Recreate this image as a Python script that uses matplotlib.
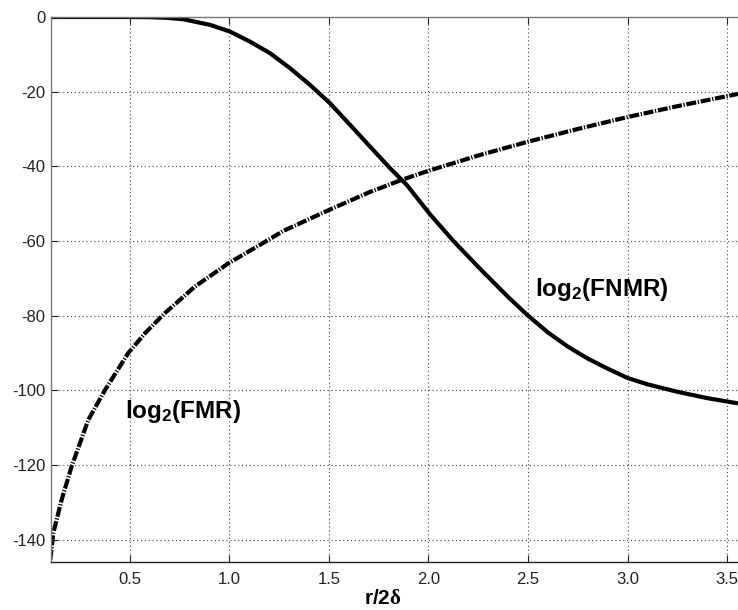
import matplotlib
matplotlib.use("Agg")
import matplotlib.pyplot as plt

plt.rcParams['font.family'] = ['Liberation Sans', 'DejaVu Sans']
plt.rcParams['mathtext.fontset'] = 'custom'
plt.rcParams['mathtext.rm'] = 'Liberation Sans:bold'
plt.rcParams['mathtext.bf'] = 'Liberation Sans:bold'
plt.rcParams['mathtext.it'] = 'Liberation Sans:bold'
plt.rcParams['mathtext.sf'] = 'Liberation Serif:bold'

# FNMR (solid)
fnmr_x = [0.103, 0.3, 0.5, 0.6, 0.68, 0.768, 0.902, 1.003, 1.103, 1.204, 1.304, 1.405,
          1.505, 1.606, 1.706, 1.807, 1.891, 2.01, 2.125, 2.26, 2.4, 2.5, 2.6, 2.7,
          2.8, 2.9, 3.0, 3.1, 3.25, 3.4, 3.555]
fnmr_y = [0.0, 0.0, 0.0, -0.05, -0.2, -0.6, -2.1, -3.9, -6.6, -9.7, -13.7, -18.2,
          -23.1, -28.9, -34.7, -40.5, -45.0, -53.0, -60.0, -67.5, -75.0, -80.0, -84.5, -88.3,
          -91.5, -94.2, -96.7, -98.4, -100.4, -102.1, -103.5]

# FMR (dash-dot)
fmr_x = [0.100, 0.115, 0.157, 0.207, 0.291, 0.375, 0.492, 0.576, 0.676, 0.827, 0.994,
         1.145, 1.271, 1.5, 1.7, 1.867, 2.0, 2.25, 2.5, 2.75, 3.0, 3.25, 3.5, 3.555]
fmr_y = [-145.4, -138.2, -129.3, -120.4, -107.9, -99.9, -90.0, -84.7, -79.3, -72.2, -66.0,
         -61.3, -57.3, -51.7, -47.0, -43.6, -41.2, -37.1, -33.4, -30.0, -26.8, -23.9, -21.2, -20.6]

xticks = [0.5, 1.0, 1.5, 2.0, 2.5, 3.0, 3.5]
xticklabels = ['0.5', '1.0', '1.5', '2.0', '2.5', '3.0', '3.5']
yticks = [0, -20, -40, -60, -80, -100, -120, -140]
yticklabels = ['0', '-20', '-40', '-60', '-80', '-100', '-120', '-140']

fig = plt.figure(figsize=(7.38, 6.10), dpi=100)
ax = fig.add_axes([51/738, 48/610, 687/738, 545/610])

ax.plot(fnmr_x, fnmr_y, color='black', lw=3.0, solid_capstyle='butt', solid_joinstyle='round')
ax.plot(fmr_x, fmr_y, color='black', lw=3.0, linestyle=(0, (2.4, 0.4, 0.3, 0.4)),
        dash_capstyle='butt', dash_joinstyle='round')

ax.set_xlim(0.1034, 3.555)
ax.set_ylim(-146, 0)
ax.set_xticks(xticks)
ax.set_xticklabels(xticklabels)
ax.set_yticks(yticks)
ax.set_yticklabels(yticklabels)
ax.tick_params(axis='both', direction='in', length=5, width=0.8, labelsize=12,
               top=True, right=False, colors='#222222')
ax.tick_params(axis='x', pad=7)
ax.tick_params(axis='y', pad=4)

ax.grid(True, linestyle=(0, (1, 2.5)), color='#444444', lw=0.8)
ax.set_axisbelow(True)

for s in ['top', 'left']:
    ax.spines[s].set_color('#777777')
    ax.spines[s].set_linewidth(1.0)
ax.spines['bottom'].set_color('#222222')
ax.spines['bottom'].set_linewidth(1.0)
ax.spines['right'].set_visible(False)

ax.set_xlabel(r'$\mathbf{r/2}\mathsf{\delta}$', fontsize=15)
ax.xaxis.set_label_coords((383 - 51) / 687, -(599 - 562) / 545)
ax.xaxis.label.set_verticalalignment('center')

ax.text(0.475, -105.8, r'$\mathbf{log_2(FMR)}$', fontsize=17.5, ha='left', va='center')
ax.text(2.535, -73.0, r'$\mathbf{log_2(FNMR)}$', fontsize=17.5, ha='left', va='center')

fig.savefig('out.png', dpi=100)
